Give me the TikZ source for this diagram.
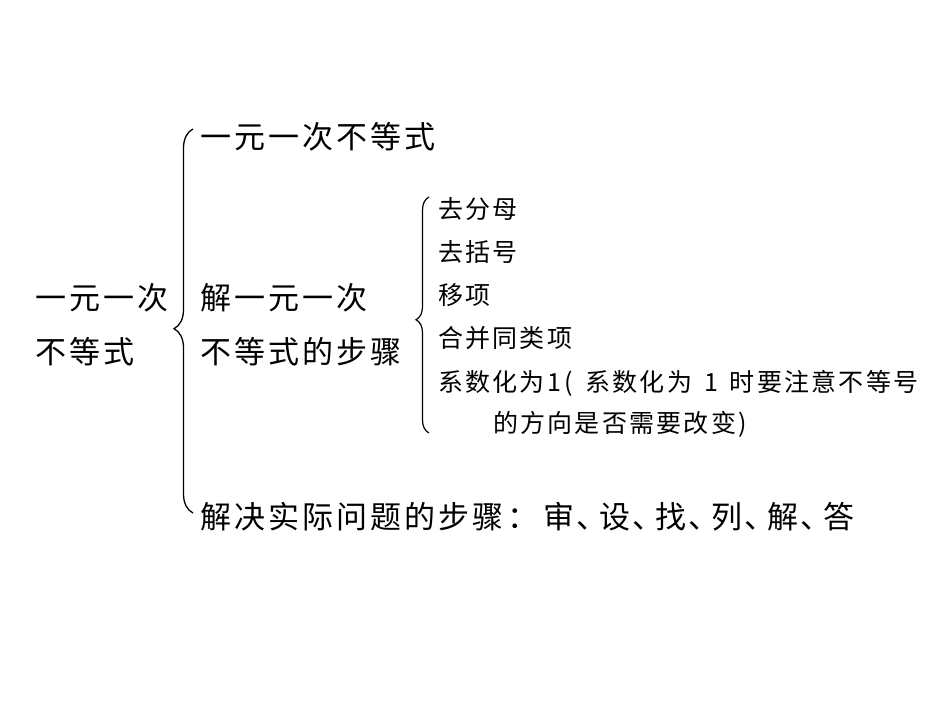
\documentclass[tikz,border=0pt]{standalone}
\usepackage{fontspec}
\newfontfamily\cjk{Noto Sans CJK SC}[LetterSpace=10]
\newfontfamily\cjkplain{Noto Sans CJK SC}
\newfontfamily\cjksmall{Noto Sans CJK SC}[LetterSpace=9]
\newcommand{\dun}{\makebox[25pt][l]{\cjkplain\hspace{2pt}、}}
\usetikzlibrary{positioning,decorations.pathreplacing}

\begin{document}
\begin{tikzpicture}[x=1pt,y=-1pt,
    big/.style={font=\cjk\fontsize{31}{36}\selectfont,anchor=west,inner sep=0pt},
    small/.style={font=\cjksmall\fontsize{25}{30}\selectfont,anchor=west,inner sep=0pt},
    bigbrace/.style={decorate,decoration={brace,amplitude=19pt,aspect=0.48},line width=1.3pt},
    smallbrace/.style={decorate,decoration={brace,amplitude=13pt,aspect=0.48},line width=1.2pt}]
  \useasboundingbox[fill=white] (0,0) rectangle (950,713);

  % left title
  \node (t1) [big] at (35,298)                        {一元一次};
  \node (t2) [big, below=54pt of t1.west, anchor=west] {不等式};

  % main branches
  \node (a)  [big] at (200,137)                        {一元一次不等式};
  \node (b1) [big] at (200,298)                        {解一元一次};
  \node (b2) [big, below=54pt of b1.west, anchor=west] {不等式的步骤};
  \node (c)  [big] at (200,517)
    {解决实际问题的步骤：\hspace{5pt}审\dun 设\dun 找\dun 列\dun 解\dun 答};

  % steps
  \node (s1) [small] at (438,209)                        {去分母};
  \node (s2) [small, below=43pt of s1.west, anchor=west] {去括号};
  \node (s3) [small, below=43pt of s2.west, anchor=west] {移项};
  \node (s4) [small, below=43pt of s3.west, anchor=west] {合并同类项};
  \node (s5) [small, below=45pt of s4.west, anchor=west]
    {系数化为\hspace{3pt}1\hspace{3pt}(\hspace{12pt}系数化为\hspace{12pt}1\hspace{12pt}时要注意不等号};
  \node (s6) [small] at (493,424)                        {的方向是否需要改变)};

  \coordinate (p1) at (193,513);
  \coordinate (p2) at (193,129);
  \coordinate (q1) at (429,433);
  \coordinate (q2) at (429,197);

  \draw [bigbrace]   (p1) -- (p2);
  \draw [smallbrace] (q1) -- (q2);
\end{tikzpicture}
\end{document}
